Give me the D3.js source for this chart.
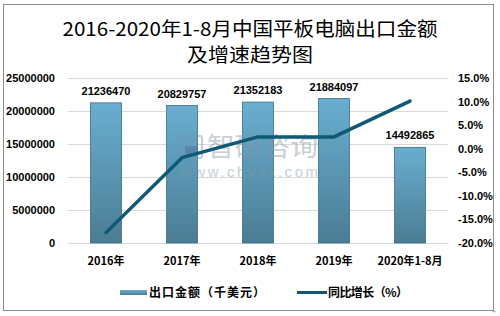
<!DOCTYPE html>
<html><head><meta charset="utf-8">
<script src="https://cdn.jsdelivr.net/npm/d3@7"></script>
<style>body{margin:0;background:#fff}svg{display:block}</style>
</head><body>
<svg id="c" width="500" height="316"></svg>
<script>
const categories = ["2016年","2017年","2018年","2019年","2020年1-8月"];
const exportValues = [21236470, 20829757, 21352183, 21884097, 14492865];
const growthRates = [-17.8, -1.9, 2.5, 2.5, 10.1];
const leftTicks = [0, 5000000, 10000000, 15000000, 20000000, 25000000];
const rightTicks = [-20, -15, -10, -5, 0, 5, 10, 15];
const seriesNames = ["出口金额（千美元）", "同比增长（%）"];
const titleLines = ["2016-2020年1-8月中国平板电脑出口金额", "及增速趋势图"];

const svg = d3.select("#c");
const m = {l:68, r:448, t:78, b:243};
const font = "'Liberation Sans', Arial, sans-serif";
const cjk = "'Noto Sans CJK SC', sans-serif";

// frame
svg.append("rect").attr("x",3.5).attr("y",4.5).attr("width",490).attr("height",306)
  .attr("fill","#fff").attr("stroke","#8c8c8c").attr("stroke-width",1);
svg.append("text").attr("x",494).attr("y",314).attr("font-size",7).attr("fill","#888").attr("text-anchor","middle").text("+");

// title
svg.append("text").attr("x",250).attr("y",36).attr("text-anchor","middle")
  .attr("font-family","'Noto Sans CJK SC', serif").attr("font-size",19)
  .attr("textLength",375).attr("lengthAdjust","spacingAndGlyphs").attr("fill","#000").text(titleLines[0]);
svg.append("text").attr("x",250).attr("y",62).attr("text-anchor","middle")
  .attr("font-family","'Noto Sans CJK SC', serif").attr("font-size",19)
  .attr("textLength",126).attr("lengthAdjust","spacingAndGlyphs").attr("fill","#000").text(titleLines[1]);

const x = d3.scaleBand().domain(categories).range([m.l, m.r]).paddingInner(0.59).paddingOuter(0.295);
const yL = d3.scaleLinear().domain([0, 25000000]).range([m.b, m.t]);
const yR = d3.scaleLinear().domain([-20, 15]).range([m.b, m.t]);

// gridlines
svg.append("g").selectAll("line").data(leftTicks).join("line")
  .attr("x1",m.l).attr("x2",m.r).attr("y1",d=>Math.round(yL(d))+0.5).attr("y2",d=>Math.round(yL(d))+0.5)
  .attr("stroke","#d9d9d9").attr("stroke-width",1);

// left axis
const gl = svg.append("g").attr("transform",`translate(${m.l},0)`)
  .call(d3.axisLeft(yL).tickValues(leftTicks).tickSize(0).tickPadding(13).tickFormat(d3.format("d")));
gl.select(".domain").remove();
gl.selectAll("text").attr("font-family",font).attr("font-size",11).attr("font-weight","bold").attr("fill","#000");

// right axis
const gr = svg.append("g").attr("transform",`translate(${m.r},0)`)
  .call(d3.axisRight(yR).tickValues(rightTicks).tickSize(0).tickPadding(10).tickFormat(d=>d.toFixed(1)+"%"));
gr.select(".domain").remove();
gr.selectAll("text").attr("font-family",font).attr("font-size",11).attr("font-weight","bold").attr("fill","#000");

// x axis
const gx = svg.append("g").attr("transform",`translate(0,${m.b})`)
  .call(d3.axisBottom(x).tickSize(0).tickPadding(14));
gx.select(".domain").remove();
gx.selectAll("text").attr("font-family",cjk).attr("font-size",11).attr("font-weight","bold").attr("fill","#000");

// gradient
const defs = svg.append("defs");
const grad = defs.append("linearGradient").attr("id","bg").attr("x1",0).attr("y1",0).attr("x2",0).attr("y2",1);
grad.append("stop").attr("offset","0%").attr("stop-color","#69aed0");
grad.append("stop").attr("offset","100%").attr("stop-color","#4b7d94");

// bars
svg.append("g").selectAll("rect").data(exportValues).join("rect")
  .attr("x",(d,i)=>x(categories[i])).attr("width",x.bandwidth())
  .attr("y",d=>yL(d)).attr("height",d=>m.b-yL(d))
  .attr("fill","url(#bg)").attr("stroke","#3e6f86").attr("stroke-width",0.8);

// data labels
svg.append("g").selectAll("text").data(exportValues).join("text")
  .attr("x",(d,i)=>x(categories[i])+x.bandwidth()/2).attr("y",d=>yL(d)-8)
  .attr("text-anchor","middle").attr("font-family",font).attr("font-size",11).attr("font-weight","bold")
  .attr("fill","#000").text(d=>d);

// watermark
const wm = svg.append("g").attr("opacity",0.45);
wm.append("rect").attr("x",181).attr("y",136).attr("width",21).attr("height",22).attr("rx",2).attr("fill","none").attr("stroke","#7f95ad").attr("stroke-width",2);
wm.append("rect").attr("x",185).attr("y",146).attr("width",13).attr("height",9).attr("fill","#4f6f99");
wm.append("text").attr("x",207).attr("y",156).attr("font-family",cjk).attr("font-size",26).attr("fill","#8696a6")
  .attr("textLength",111).attr("lengthAdjust","spacingAndGlyphs").text("智研咨询");
wm.append("text").attr("x",181).attr("y",177).attr("font-family",font).attr("font-size",15).attr("fill","#8696a6")
  .attr("textLength",137).attr("lengthAdjust","spacing").text("www.chyxx.com");

// line
const line = d3.line().x((d,i)=>x(categories[i])+x.bandwidth()/2).y(d=>yR(d));
svg.append("path").datum(growthRates).attr("d",line).attr("fill","none")
  .attr("stroke","#0e5a74").attr("stroke-width",3.5).attr("stroke-linecap","round").attr("stroke-linejoin","round");

// legend
const lg = svg.append("g");
lg.append("rect").attr("x",120).attr("y",290).attr("width",27).attr("height",5).attr("fill","url(#bg)");
lg.append("text").attr("x",149).attr("y",297).attr("font-family",cjk).attr("font-size",12).attr("font-weight","bold")
  .attr("textLength",116).attr("lengthAdjust","spacing").text(seriesNames[0]);
lg.append("line").attr("x1",297).attr("x2",327).attr("y1",292.5).attr("y2",292.5).attr("stroke","#0e5a74").attr("stroke-width",3);
lg.append("text").attr("x",328).attr("y",297).attr("font-family",cjk).attr("font-size",12).attr("font-weight","bold")
  .attr("textLength",80).attr("lengthAdjust","spacing").text(seriesNames[1]);
</script>
</body></html>
